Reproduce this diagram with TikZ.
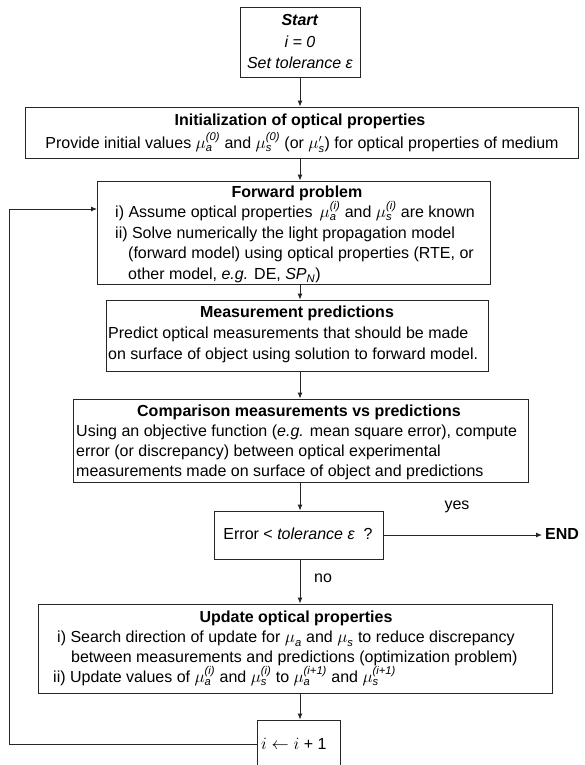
\documentclass[tikz,border=0pt]{standalone}
\usepackage{amsmath}
\usepackage{fontspec}
\setmainfont{Liberation Sans}
\usetikzlibrary{arrows.meta}
% optical coefficients: mu with italic sans sub/superscripts
\newcommand\muc[2]{$\mu_{\textit{#1}}^{\textit{#2}}$}
\tikzset{
  box/.style={draw=black!85, line width=0.9bp, inner sep=0pt},
  txt/.style={inner sep=0pt, anchor=mid, yshift=-2bp, font=\fontsize{16bp}{19bp}\selectfont},
  ltxt/.style={txt, anchor=mid west},
  flow/.style={draw=black!85, line width=0.9bp, -{Latex[length=6bp,width=5bp]}},
  link/.style={draw=black!85, line width=0.9bp}
}
\begin{document}
\begin{tikzpicture}[x=1bp,y=-1bp]
\useasboundingbox (0,0) rectangle (585,765);
\clip (0,0) rectangle (585,765);

% boxes
\node[box, minimum width=120bp, minimum height=70bp] (start) at (300,42) {};
\node[box, minimum width=553bp, minimum height=51bp] (init) at (301.5,132.5) {};
\node[box, minimum width=393bp, minimum height=103bp] (fwd) at (293.5,232.5) {};
\node[box, minimum width=382bp, minimum height=71bp] (meas) at (297,335.5) {};
\node[box, minimum width=455bp, minimum height=83bp] (comp) at (300.5,440.5) {};
\node[box, minimum width=169bp, minimum height=48bp] (err) at (298.5,535) {};
\node[box, minimum width=514bp, minimum height=89bp] (upd) at (295,648.5) {};
\node[box, minimum width=83bp, minimum height=48bp] (inc) at (298.5,744) {};

% start
\node[txt] (t1) at (300,21) {\textbf{\textit{Start}}};
\node[txt] (t2) at (300,43) {\textit{i = 0}};
\node[txt] (t3) at (300,64) {\textit{Set tolerance ε}};

% initialization
\node[txt] (i1) at (300,121) {\textbf{Initialization of optical properties}};
\node[txt] (i2) at (302,144) {Provide initial values \muc{a}{(0)} and \muc{s}{(0)} (or $\mu'_{\textit{s}}$) for optical properties of medium};

% forward problem
\node[txt] (f1) at (297,193) {\textbf{Forward problem}};
\node[ltxt] (f2) at (115,213) {i) Assume optical properties \,\muc{a}{(i)} and \muc{s}{(i)} are known};
\node[ltxt] (f3) at (115,234) {ii) Solve numerically the light propagation model};
\node[ltxt] (f4) at (128,254) {(forward model) using optical properties (RTE, or};
\node[ltxt] (f5) at (128,275) {other model, \textit{e.g.} DE, \textit{SP}\textsubscript{\textit{N}})};

% measurement predictions
\node[txt] (m1) at (297,313) {\textbf{Measurement predictions}};
\node[ltxt] (m2) at (108,334) {Predict optical measurements that should be made};
\node[ltxt] (m3) at (108,355) {on surface of object using solution to forward model.};

% comparison
\node[txt] (c1) at (299,412) {\textbf{Comparison measurements vs predictions}};
\node[ltxt] (c2) at (76,432) {Using an objective function (\textit{e.g.} mean square error), compute};
\node[ltxt] (c3) at (76,452) {error (or discrepancy) between optical experimental};
\node[ltxt] (c4) at (76,472) {measurements made on surface of object and predictions};

% test
\node[txt] (e1) at (298,535) {Error < \textit{tolerance ε}\ \ ?};
\node[txt] (yes) at (457,505) {yes};
\node[txt] (no) at (323,578) {no};
\node[txt, anchor=mid west, inner sep=3bp] (end) at (542,535) {\textbf{END}};

% update
\node[txt] (u1) at (296,618) {\textbf{Update optical properties}};
\node[ltxt] (u2) at (57,638) {i) Search direction of update for \muc{a}{} and \muc{s}{} to reduce discrepancy};
\node[ltxt] (u3) at (71,658) {between measurements and predictions (optimization problem)};
\node[ltxt] (u4) at (53,678) {ii) Update values of \muc{a}{(i)} and \muc{s}{(i)} to \muc{a}{(i+1)} and \muc{s}{(i+1)}};

% increment
\node[ltxt] (n1) at (261,745) {$i \leftarrow i$ + 1};

% connectors
\coordinate (spine) at (300,0);
\coordinate (lp) at (9,0);
\coordinate (fwdin) at (97,209);
\draw[flow] (start.south) -- (start.south |- init.north);
\draw[flow] (init.south -| spine) -- (fwd.north -| spine);
\draw[flow] (fwd.south -| spine) -- (meas.north -| spine);
\draw[flow] (meas.south -| spine) -- (comp.north -| spine);
\draw[flow] (comp.south -| spine) -- (err.north -| spine);
\draw[flow] (err.south -| spine) -- (upd.north -| spine);
\draw[flow] (upd.south -| spine) -- (inc.north -| spine);
\draw[flow] (err.east) -- (err.east -| end.west);
\draw[flow] (inc.west) -- (inc.west -| lp) -- (lp |- fwdin) -- (fwdin);
\end{tikzpicture}
\end{document}
